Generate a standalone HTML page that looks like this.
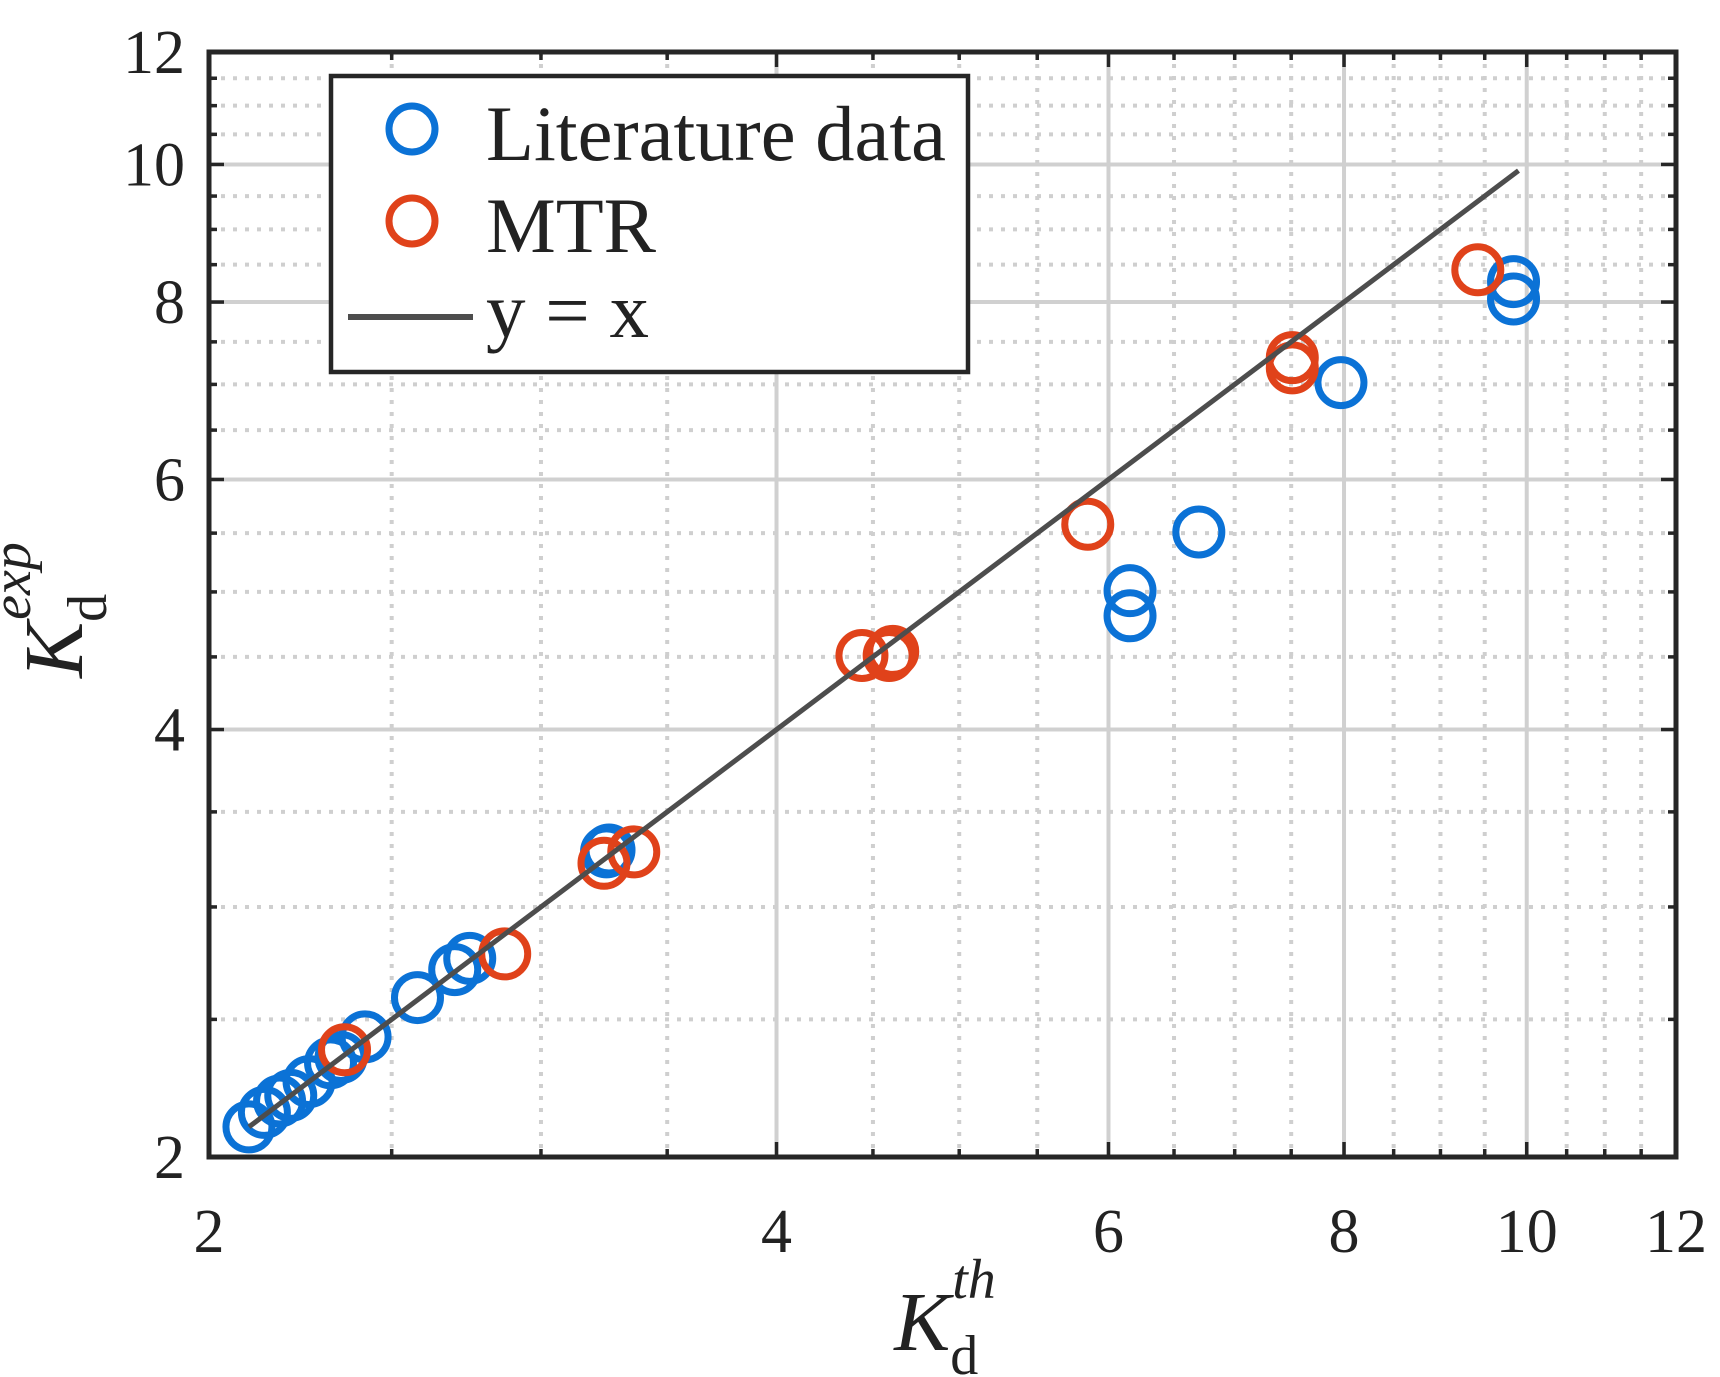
<!DOCTYPE html>
<html><head><meta charset="utf-8"><style>
html,body{margin:0;padding:0;background:#fff;}
svg{display:block;}
text{font-family:"Liberation Serif",serif;fill:#222;}
</style></head><body>
<svg id="chart" width="1720" height="1377" viewBox="0 0 1720 1377">
<g id="grid"></g>
<g id="axes"></g>
<g id="marks"></g>
<g id="legend">
  <rect x="331" y="76" width="637" height="296" fill="#fff" stroke="#262626" stroke-width="4.5"/>
  <circle cx="412" cy="129" r="23" fill="none" stroke="#0b72d6" stroke-width="7"/>
  <text x="486" y="160" font-size="78" textLength="460" lengthAdjust="spacingAndGlyphs">Literature data</text>
  <circle cx="412" cy="221" r="23" fill="none" stroke="#e0421a" stroke-width="7"/>
  <text x="486" y="252" font-size="78" textLength="170" lengthAdjust="spacingAndGlyphs">MTR</text>
  <line x1="348" y1="317" x2="473" y2="317" stroke="#4d4d4d" stroke-width="6"/>
  <text x="486" y="337" font-size="78" textLength="163" lengthAdjust="spacingAndGlyphs">y = x</text>
</g>
<text x="945" y="1350" font-size="84" font-style="italic" text-anchor="middle">K<tspan font-size="56" font-style="normal" dy="24">d</tspan><tspan font-size="56" dx="-26" dy="-76">th</tspan></text>
<g transform="translate(82,610) rotate(-90)"><text x="0" y="0" font-size="84" font-style="italic" text-anchor="middle">K<tspan font-size="56" font-style="normal" dy="24">d</tspan><tspan font-size="56" dx="-26" dy="-76">exp</tspan></text></g>
</svg>
<script>
const xTicks = [2,4,6,8,10,12];
const yTicks = [2,4,6,8,10,12];
const minorTicks = [2.5,3,3.5,4.5,5,5.5,6.5,7,7.5,8.5,9,9.5,10.5,11,11.5];
const litX = [2.10,2.14,2.18,2.21,2.26,2.32,2.35,2.42,2.58,2.70,2.75,3.25,3.26,6.16,6.16,6.70,7.97,9.84,9.84];
const litY = [2.10,2.15,2.19,2.21,2.26,2.33,2.35,2.43,2.59,2.71,2.76,3.28,3.29,5.01,4.81,5.51,7.02,8.27,8.04];
const mtrX = [2.36,2.87,3.24,3.36,4.44,4.59,4.61,5.85,7.51,7.51,9.42];
const mtrY = [2.38,2.78,3.22,3.28,4.51,4.51,4.54,5.58,7.31,7.19,8.43];
const lineRange = [2.1,9.9];

const L=209,R=1676,T=52,B=1157;
const lmin=Math.log10(2),lmax=Math.log10(12);
const sx=v=>L+(Math.log10(v)-lmin)/(lmax-lmin)*(R-L);
const sy=v=>B-(Math.log10(v)-lmin)/(lmax-lmin)*(B-T);
const NS='http://www.w3.org/2000/svg';
function mk(tag,attrs,parent){const e=document.createElementNS(NS,tag);for(const k in attrs)e.setAttribute(k,attrs[k]);parent.appendChild(e);return e;}
const grid=document.getElementById('grid'),axes=document.getElementById('axes'),marks=document.getElementById('marks');

minorTicks.forEach(v=>{
  let g=mk('line',{x1:sx(v),x2:sx(v),y1:T,y2:B,stroke:'#cfcfcf','stroke-width':4,'stroke-dasharray':'4 8'},grid);
  
  
  g=mk('line',{x1:L,x2:R,y1:sy(v),y2:sy(v),stroke:'#cfcfcf','stroke-width':4,'stroke-dasharray':'4 8'},grid);
  
  
});
xTicks.slice(1,-1).forEach(v=>{
  const g=mk('line',{x1:sx(v),x2:sx(v),y1:T,y2:B,stroke:'#d0d0d0','stroke-width':4},grid);
  
  
});
yTicks.slice(1,-1).forEach(v=>{
  const g=mk('line',{x1:L,x2:R,y1:sy(v),y2:sy(v),stroke:'#d0d0d0','stroke-width':4},grid);
  
  
});
minorTicks.forEach(v=>{
  [[sx(v),B,sx(v),B-8],[sx(v),T,sx(v),T+8]].forEach(c=>{const t=mk('line',{x1:c[0],y1:c[1],x2:c[2],y2:c[3],stroke:'#262626','stroke-width':3.5},axes);
  
  });
  [[L,sy(v),L+8,sy(v)],[R,sy(v),R-8,sy(v)]].forEach(c=>{const t=mk('line',{x1:c[0],y1:c[1],x2:c[2],y2:c[3],stroke:'#262626','stroke-width':3.5},axes);
  
  });
});
xTicks.forEach(v=>{
  [[sx(v),B,sx(v),B-15],[sx(v),T,sx(v),T+15]].forEach(c=>{const t=mk('line',{x1:c[0],y1:c[1],x2:c[2],y2:c[3],stroke:'#262626','stroke-width':3.5},axes);
  
  });
  const lb=mk('text',{x:sx(v),y:B+95,'font-size':62,'text-anchor':'middle'},axes);lb.textContent=v;
  
  
});
yTicks.forEach(v=>{
  [[L,sy(v),L+15,sy(v)],[R,sy(v),R-15,sy(v)]].forEach(c=>{const t=mk('line',{x1:c[0],y1:c[1],x2:c[2],y2:c[3],stroke:'#262626','stroke-width':3.5},axes);
  
  });
  const lb=mk('text',{x:L-24,y:sy(v)+21,'font-size':62,'text-anchor':'end'},axes);lb.textContent=v;
  
  
});
const frame=mk('rect',{x:L,y:T,width:R-L,height:B-T,fill:'none',stroke:'#262626','stroke-width':5},axes);



litX.forEach((v,i)=>{
  const c=mk('circle',{cx:sx(v),cy:sy(litY[i]),r:23,fill:'none',stroke:'#0b72d6','stroke-width':7},marks);
  
  
});
mtrX.forEach((v,i)=>{
  const c=mk('circle',{cx:sx(v),cy:sy(mtrY[i]),r:23,fill:'none',stroke:'#e0421a','stroke-width':7},marks);
  
  
});
const ln=mk('line',{x1:sx(lineRange[0]),y1:sy(lineRange[0]),x2:sx(lineRange[1]),y2:sy(lineRange[1]),stroke:'#4d4d4d','stroke-width':5},marks);


</script>
</body></html>
